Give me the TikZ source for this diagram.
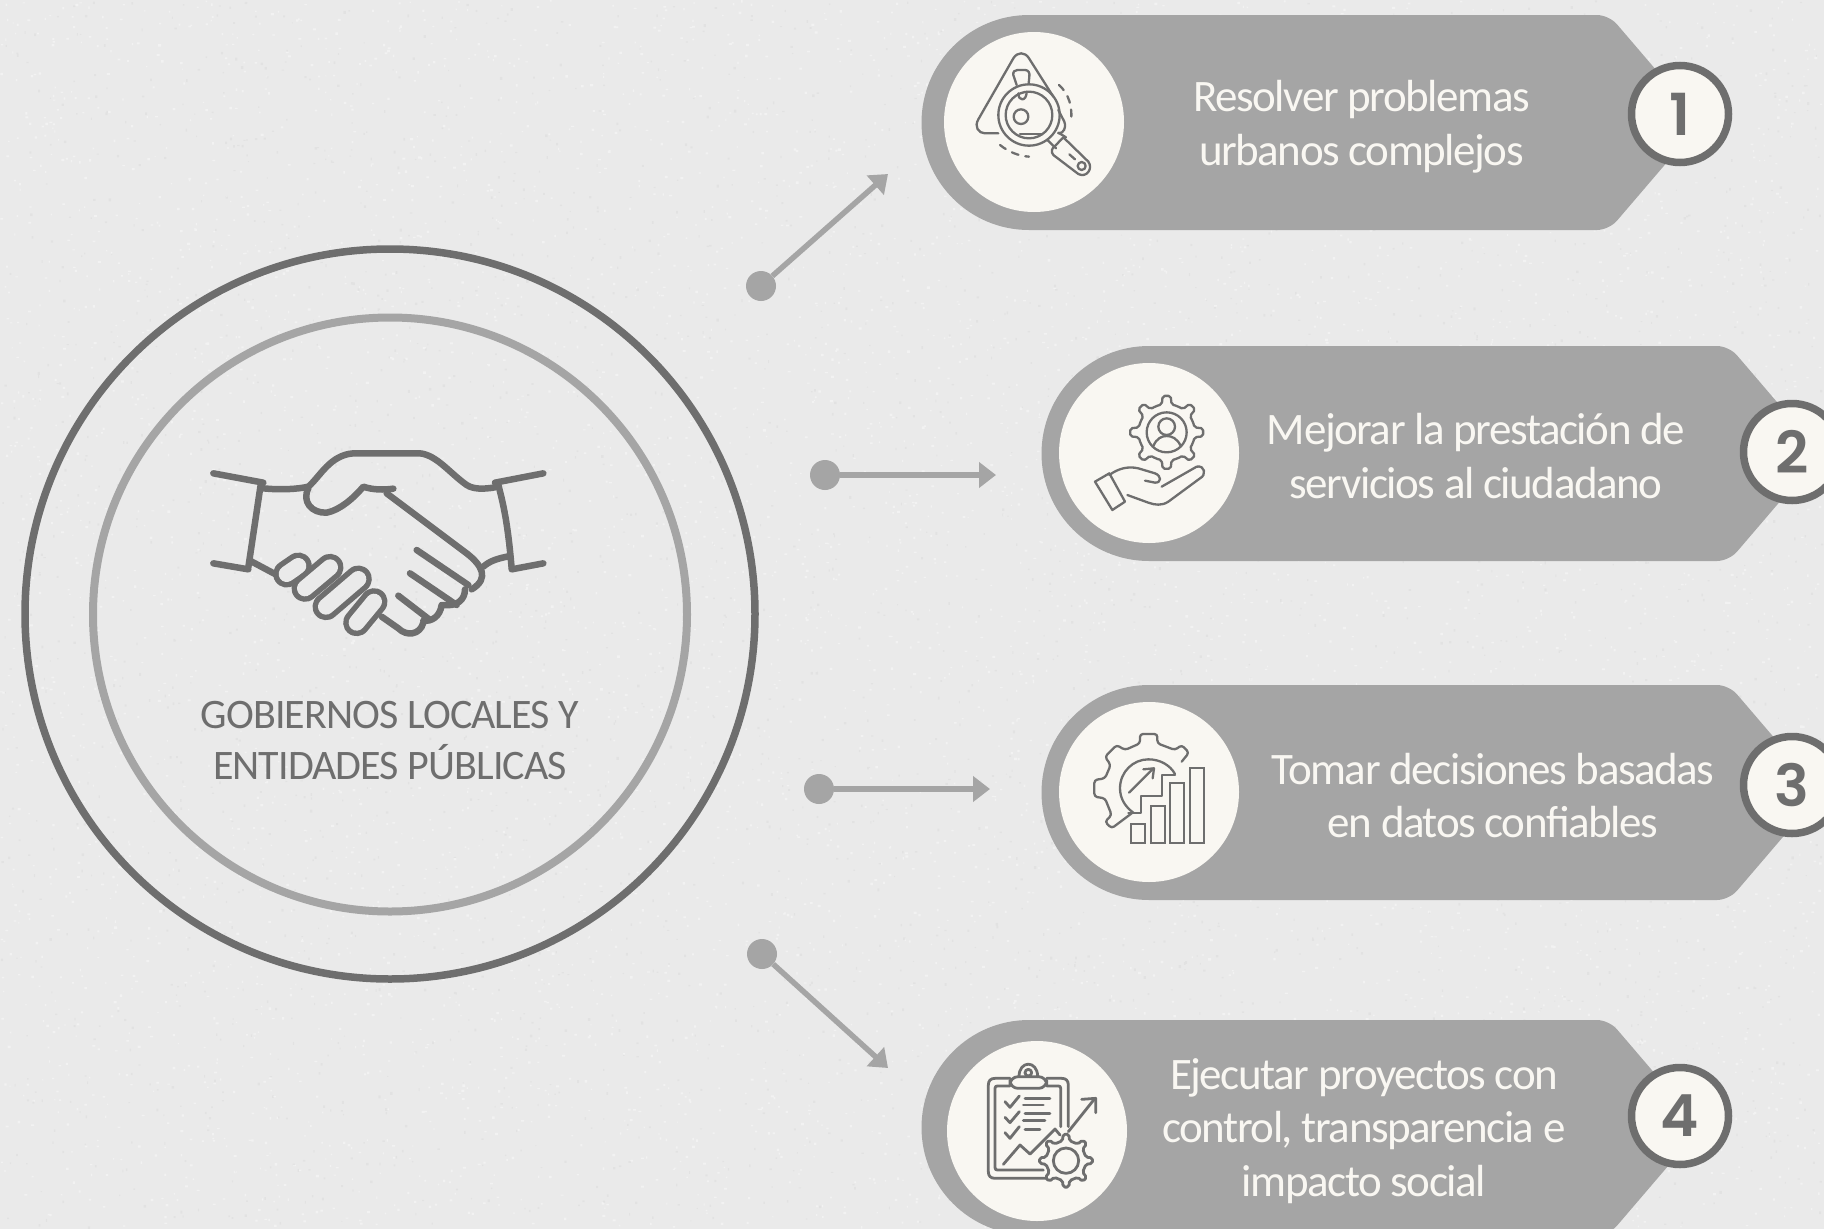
\documentclass[tikz,border=0pt]{standalone}
\usepackage{fontspec}
\setmainfont{Carlito}
\newfontfamily\numfont{Poppins SemiBold}
\newfontfamily\pillfont[LetterSpace=-3.2]{Carlito}
\newfontfamily\mainfont[LetterSpace=-2.2]{Carlito}
\usetikzlibrary{arrows.meta}
\definecolor{bgcol}{HTML}{EAEAEA}
\definecolor{pillcol}{HTML}{A5A5A5}
\definecolor{darkcol}{HTML}{6E6E6E}
\definecolor{creamcol}{HTML}{F9F7F2}
\tikzset{
  ringnode/.style={circle,draw,fill=none,inner sep=0pt},
  disc/.style={circle,fill=creamcol,inner sep=0pt,minimum size=180pt},
  numcirc/.style={circle,draw=darkcol,line width=7.5pt,fill=creamcol,inner sep=0pt,minimum size=97pt,text=darkcol,font=\numfont\fontsize{58}{58}\selectfont},
  pilltext/.style={align=center,text=creamcol,inner sep=0pt,font=\pillfont\fontsize{45}{53.5}\selectfont},
  dotnode/.style={circle,fill=pillcol,inner sep=0pt,minimum size=30pt},
  connector/.style={draw=pillcol,line width=5.5pt,-{Triangle[length=17pt,width=25pt]}},
  icon/.style={draw=darkcol,line width=2.3pt,line cap=round,line join=round},
  zoomed/.style={x=.33333pt,y=-.33333pt}
}
\newcommand{\pillshape}[2]{%
  \fill[pillcol] ({#1+108},#2) [rounded corners=12pt] -- ({#1+688},#2) -- ({#1+780},{#2+107.5}) -- ({#1+688},{#2+215}) [sharp corners] -- ({#1+108},{#2+215}) arc[start angle=90,end angle=270,radius=107.5] -- cycle;}
\newcommand{\gearpath}[6][]{%
  \pgfmathsetmacro{\stepa}{360/#6}%
  \draw[icon,rounded corners=2pt,#1] \foreach \k in {1,...,#6} {
    \ifnum\k=1 ([shift={({(\k-.5)*\stepa}:#4)}]#2,#3) \else -- ([shift={({(\k-.5)*\stepa}:#4)}]#2,#3) \fi
    -- ([shift={({(\k-.22)*\stepa}:#4)}]#2,#3)
    -- ([shift={({(\k-.14)*\stepa}:#5)}]#2,#3)
    -- ([shift={({(\k+.14)*\stepa}:#5)}]#2,#3)
    -- ([shift={({(\k+.22)*\stepa}:#4)}]#2,#3)
  } -- cycle;}
\begin{document}
\begin{tikzpicture}[x=1pt,y=-1pt]
\useasboundingbox (0,0) rectangle (1824,1229);
\fill[bgcol] (0,0) rectangle (1824,1229);
% paper grain of the background
\pgfmathsetseed{4711}
\fill[white,opacity=.4] \foreach \k in {1,...,6000} {
  ({rnd*1822},{rnd*1227}) rectangle ++({1+rnd*2},{1+rnd*1.5})
};
\fill[black,opacity=.03] \foreach \k in {1,...,3000} {
  ({rnd*1822},{rnd*1227}) rectangle ++({1+rnd*1.5},{1+rnd*2})
};
\begin{scope}
\clip (0,0) rectangle (1824,1229);
\pillshape{921}{15}
\pillshape{1041}{346}
\pillshape{1041}{685}
\pillshape{921}{1020}
\node[disc] (d1) at (1034,122) {};
\node[disc] (d2) at (1149,453) {};
\node[disc] (d3) at (1149,792) {};
\node[disc] (d4) at (1037,1131) {};
\node[numcirc] (n1) at (1680,114) {1};
\node[numcirc] (n2) at (1792,452) {2};
\node[numcirc] (n3) at (1792,785) {3};
\node[numcirc] (n4) at (1680,1116) {4};
\end{scope}
\node[pilltext] (t1) at (1361.5,126.5) {Resolver problemas\\urbanos complejos};
\node[pilltext] (t2) at (1476,456) {Mejorar la prestación de\\servicios al ciudadano};
\node[pilltext] (t3) at (1493,795.5) {Tomar decisiones basadas\\en datos confiables};
\node[pilltext] (t4) at (1364,1131) {Ejecutar proyectos con\\control, transparencia e\\impacto social};
\node[ringnode,draw=darkcol,line width=7.5pt,minimum size=730pt] (outer) at (390,614) {};
\node[ringnode,draw=pillcol,line width=8pt,minimum size=594pt] (inner) at (390,614.5) {};
\node[align=center,text=darkcol,inner sep=0pt,font=\mainfont\fontsize{42}{51}\selectfont] (main) at (390,741) {GOBIERNOS LOCALES Y\\ENTIDADES PÚBLICAS};
\node[dotnode] (s1) at (761,286) {};
\node[dotnode] (s2) at (825,475) {};
\node[dotnode] (s3) at (819,789) {};
\node[dotnode] (s4) at (762,954) {};
\coordinate (e1) at (888,174);
\coordinate (e2) at (996,475);
\coordinate (e3) at (990,789);
\coordinate (e4) at (888,1068);
\draw[connector] (s1) -- (e1);
\draw[connector] (s2) -- (e2);
\draw[connector] (s3) -- (e3);
\draw[connector] (s4) -- (e4);
% handshake
\begin{scope}[shift={(190,430)},zoomed]
\tikzset{hs/.style={draw=darkcol,line width=6.5pt,line cap=round,line join=round}}
\draw[hs] (70,130)--(220,158);
\draw[hs] (213,158)--(175,412);
\draw[hs] (70,400)--(175,418);
\draw[hs] (1060,130)--(915,158);
\draw[hs] (925,165) .. controls (945,240) and (955,300) .. (965,415);
\draw[hs] (965,418)--(1060,400);
\draw[hs] (220,175) .. controls (270,180) and (320,178) .. (355,170) .. controls (390,140) and (420,75) .. (490,70) -- (690,70) .. controls (740,75) and (780,130) .. (830,165) .. controls (850,178) and (880,178) .. (915,172);
\draw[hs] (355,175) .. controls (335,215) and (365,250) .. (410,248) .. controls (450,240) and (490,205) .. (520,170) .. controls (550,180) and (580,180) .. (610,176);
\draw[hs] (590,190) -- (830,370) .. controls (875,405) and (900,445) .. (845,478);
\draw[hs] (680,360)--(835,465);
\draw[hs] (660,430)--(800,525);
\draw[hs] (625,497)--(720,570);
\draw[hs] (825,478) .. controls (825,510) and (800,530) .. (760,525);
\draw[hs] (755,525) .. controls (750,560) and (725,575) .. (700,572);
\draw[hs] (700,578) .. controls (690,615) and (650,620) .. (625,595) -- (575,560);
\draw[hs] (880,410) .. controls (900,392) and (925,385) .. (960,378);
\draw[hs] (180,392) -- (255,432);
\tikzset{fing/.style={draw=darkcol,line width=5.5pt,double=bgcol,double distance=16pt,line cap=round}}
\draw[fing] (290,432)--(325,408);
\draw[fing] (345,475)--(420,412);
\draw[fing] (408,530)--(505,447);
\draw[fing] (500,578)--(552,515);
\end{scope}
% icon 1
\begin{scope}[shift={(930,20)},zoomed]
\draw[icon] (205,340) -- (165,340) .. controls (145,340) and (132,320) .. (145,298) -- (250,115) .. controls (262,95) and (285,95) .. (297,115) -- (370,230);
\draw[icon] (385,270) -- (403,305) .. controls (410,325) and (400,340) .. (385,340);
\draw[icon] (270,342) -- (335,342);
\draw[icon] (260,195) -- (250,165) .. controls (248,155) and (255,150) .. (262,150) -- (285,150) .. controls (295,150) and (300,158) .. (298,170) -- (296,190);
\draw[icon] (265,220) .. controls (265,245) and (290,245) .. (290,215);
\draw[icon] (297,285) circle (92);
\draw[icon] (297,285) circle (70);
\draw[icon] (273,290) circle (22);
\draw[icon] (352,360) -- (378,385);
\draw[icon] (385,338) -- (408,352);
\draw[icon] (400,352) -- (475,425) .. controls (490,445) and (470,475) .. (445,462) -- (370,405) .. controls (362,395) and (365,385) .. (375,378) -- (400,352);
\draw[icon] (455,438) circle (12);
\draw[icon] (418,403) -- (435,418);
\draw[icon,dash pattern=on 7pt off 7pt] (387,195) .. controls (415,220) and (430,260) .. (422,310);
\draw[icon,dash pattern=on 7pt off 7pt] (210,375) .. controls (235,395) and (265,408) .. (297,410);
\end{scope}
% icon 2
\begin{scope}[shift={(1050,360)},zoomed]
\gearpath{350}{217}{85}{110}{8}
\draw[icon] (350,217) circle (60);
\draw[icon] (350,200) circle (25);
\draw[icon] (310,258) .. controls (320,235) and (335,228) .. (350,228) .. controls (365,228) and (382,235) .. (392,258);
\draw[icon] (135,365)--(178,340)--(225,425)--(187,450)--cycle;
\draw[icon] (178,345) .. controls (205,325) and (235,318) .. (265,325) -- (315,340) .. controls (335,348) and (335,368) .. (315,368) -- (285,362);
\draw[icon] (335,380) -- (440,320) .. controls (465,315) and (470,345) .. (450,355) -- (355,425) .. controls (335,438) and (315,435) .. (295,428) -- (232,405);
\end{scope}
% icon 3
\begin{scope}[shift={(1050,700)},zoomed]
\draw[icon,rounded corners=3pt] (245,340) -- (185,385) -- (165,365) -- (185,345) -- (165,295) -- (133,290) -- (133,240) -- (165,235) -- (182,195) -- (165,170) -- (200,135) -- (225,150) -- (270,130) -- (270,102) -- (322,102) -- (322,130) -- (375,150) -- (395,135) -- (417,158) -- (395,185);
\draw[icon] (250,338) .. controls (225,320) and (210,295) .. (210,265) .. controls (210,215) and (250,178) .. (295,178) .. controls (330,178) and (360,195) .. (375,222);
\draw[icon] (375,225) -- (335,225) -- (335,288) -- (272,288) -- (272,340) -- (235,340);
\draw[icon] (237,278) -- (310,205);
\draw[icon] (280,208) -- (312,205) -- (308,235);
\foreach \xa/\ya in {243/372,302/318,361/250,420/205}
  \draw[icon,line join=miter] (\xa,\ya) rectangle ({\xa+42},430);
\end{scope}
% icon 4
\begin{scope}[shift={(940,1030)},zoomed]
\tikzset{ic4/.style={icon,line width=2.8pt}}
\draw[ic4] (210,145) -- (165,145) .. controls (152,145) and (145,152) .. (145,165) -- (145,425) .. controls (145,438) and (152,445) .. (165,445) -- (320,445);
\draw[ic4] (320,145) -- (365,145) .. controls (378,145) and (385,152) .. (385,165) -- (385,290);
\draw[ic4] (210,168) -- (172,168) .. controls (168,168) and (165,170) .. (165,175) -- (165,412) .. controls (165,418) and (168,420) .. (172,420) -- (310,420);
\draw[ic4] (320,168) -- (355,168) .. controls (360,168) and (362,170) .. (362,175) -- (362,290);
\draw[ic4,rounded corners=8pt] (210,140) rectangle (320,175);
\draw[ic4] (265,128) circle (10);
\draw[ic4] (237,140) .. controls (237,90) and (293,90) .. (293,140);
\draw[ic4] (195,215) -- (210,232) -- (238,198);
\draw[ic4] (195,262) -- (210,278) -- (238,245);
\draw[ic4] (195,308) -- (210,325) -- (238,290);
\foreach \xa/\xb/\ya in {255/330/205,250/310/225,255/330/250,250/315/272,255/300/298}
  \draw[ic4] (\xa,\ya) -- (\xb,\ya);
\draw[ic4] (190,403) -- (240,345) -- (270,372) -- (345,297) -- (360,315);
\draw[ic4] (385,305) -- (465,205);
\draw[ic4] (425,208) -- (467,205) -- (467,248);
\gearpath[ic4,fill=creamcol]{378}{392}{60}{80}{8}
\draw[ic4] (378,392) circle (38);
\end{scope}
\end{tikzpicture}
\end{document}
